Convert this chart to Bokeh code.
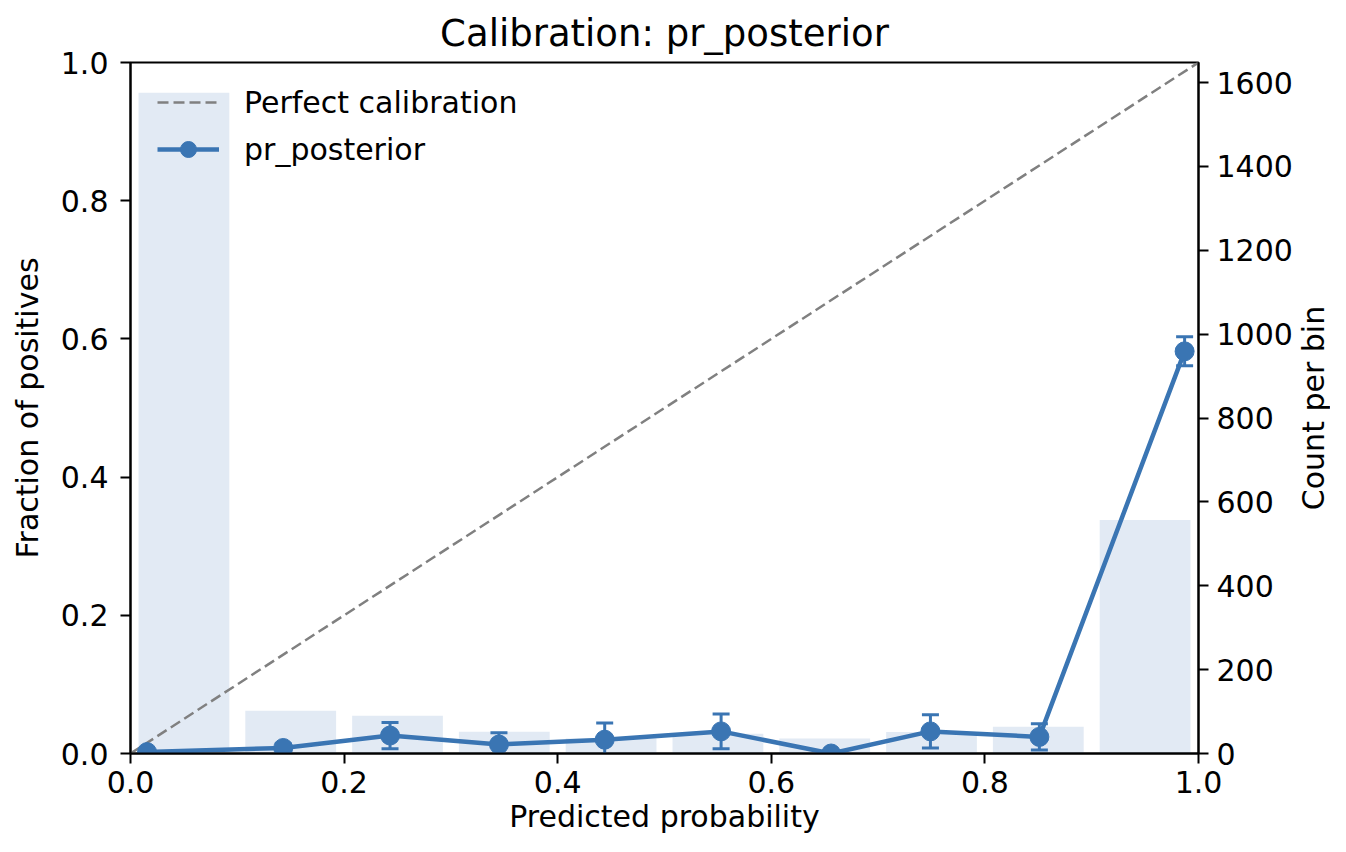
import math
from bokeh.plotting import figure
from bokeh.layouts import row
from bokeh.models import (Range1d, LinearAxis, FixedTicker, PrintfTickFormatter,
                          Legend, LegendItem, Label)
from bokeh.embed import file_html
from bokeh.resources import INLINE

# ---------------- data ----------------
title_text = "Calibration: pr_posterior"
series_name = "pr_posterior"
diag_label = "Perfect calibration"
x_label = "Predicted probability"
y_label = "Fraction of positives"
y2_label = "Count per bin"

bin_centers = [0.05, 0.15, 0.25, 0.35, 0.45, 0.55, 0.65, 0.75, 0.85, 0.95]
bin_counts = [1576, 102, 90, 52, 36, 47, 36, 51, 64, 557]

mean_predicted = [0.0155, 0.143, 0.243, 0.345, 0.444, 0.553, 0.656, 0.749, 0.851, 0.987]
fraction_positives = [0.002, 0.008, 0.026, 0.013, 0.020, 0.032, 0.0, 0.032, 0.024, 0.582]
fraction_err = [0.002, 0.006, 0.019, 0.017, 0.024, 0.025, 0.0, 0.024, 0.019, 0.021]

diag_xy = [0.0, 1.0]
x_ticks = [0.0, 0.2, 0.4, 0.6, 0.8, 1.0]
y_ticks = [0.0, 0.2, 0.4, 0.6, 0.8, 1.0]
count_ticks = [0, 200, 400, 600, 800, 1000, 1200, 1400, 1600]
count_max = 1648

# ---------------- style / layout ----------------
BLUE = "#3a75b3"
GRAY = "#808080"
FONT = "DejaVu Sans"
FS = "30px"
W_MAIN, W_SIDE, H = 1295, 35, 836
B_LEFT, B_RIGHT, B_TOP, B_BOTTOM = 130, 94, 62, 83
FRAME_H = H - B_TOP - B_BOTTOM

p = figure(width=W_MAIN, height=H,
           x_range=Range1d(0, 1), y_range=Range1d(0, 1),
           output_backend="svg", toolbar_location=None,
           min_border_left=B_LEFT, min_border_right=B_RIGHT,
           min_border_top=B_TOP, min_border_bottom=B_BOTTOM,
           title=title_text)
p.extra_y_ranges = {"count": Range1d(0, count_max)}
p.background_fill_color = "white"
p.border_fill_color = "white"
p.outline_line_color = "black"
p.outline_line_width = 2
p.outline_line_alpha = 1
p.xgrid.visible = False
p.ygrid.visible = False

p.title.text_font = FONT
p.title.text_font_size = "37px"
p.title.text_font_style = "normal"
p.title.align = "center"
p.title.text_color = "black"
p.title.standoff = 16

# bars (count per bin) on secondary axis
p.vbar(x=bin_centers, top=bin_counts, bottom=0, width=0.085,
       y_range_name="count", fill_color=BLUE, fill_alpha=0.15, line_color=None)

# perfect calibration diagonal
diag_r = p.line(diag_xy, diag_xy, line_color=GRAY, line_width=2.5, line_dash="11 5")

# error bars
lower = [f - e for f, e in zip(fraction_positives, fraction_err)]
upper = [f + e for f, e in zip(fraction_positives, fraction_err)]
p.segment(x0=mean_predicted, y0=lower, x1=mean_predicted, y1=upper,
          line_color=BLUE, line_width=3)
p.scatter(x=mean_predicted + mean_predicted, y=lower + upper, marker="dash",
          size=17, line_color=BLUE, line_width=3)

line_r = p.line(mean_predicted, fraction_positives, line_color=BLUE, line_width=4.5)
pts_r = p.scatter(mean_predicted, fraction_positives, size=19,
                  fill_color=BLUE, line_color=BLUE)

legend = Legend(items=[LegendItem(label=diag_label, renderers=[diag_r]),
                       LegendItem(label=series_name, renderers=[line_r, pts_r])],
                location=(27, FRAME_H - 87 - 20), margin=0, padding=0,
                glyph_width=62, glyph_height=40, label_standoff=25, spacing=7,
                label_text_font=FONT, label_text_font_size=FS, label_text_color="black",
                background_fill_alpha=0, border_line_alpha=0)
p.add_layout(legend)

# axes
p.xaxis.ticker = FixedTicker(ticks=x_ticks)
p.xaxis.formatter = PrintfTickFormatter(format="%.1f")
p.xaxis.axis_label = x_label
p.yaxis.ticker = FixedTicker(ticks=y_ticks)
p.yaxis.formatter = PrintfTickFormatter(format="%.1f")
p.yaxis.axis_label = y_label

ax_r = LinearAxis(y_range_name="count", ticker=FixedTicker(ticks=count_ticks))
p.add_layout(ax_r, "right")

for ax in [p.xaxis[0], p.yaxis[0], ax_r]:
    ax.major_label_text_font = FONT
    ax.major_label_text_font_size = FS
    ax.major_label_text_color = "black"
    ax.axis_label_text_font = FONT
    ax.axis_label_text_font_size = FS
    ax.axis_label_text_font_style = "normal"
    ax.axis_label_text_color = "black"
    ax.major_tick_out = 10
    ax.major_tick_in = 0
    ax.minor_tick_out = 0
    ax.minor_tick_in = 0
    ax.major_tick_line_width = 2
    ax.major_tick_line_color = "black"
    ax.axis_line_width = 2
    ax.axis_line_color = "black"
    ax.major_label_standoff = 12

p.xaxis[0].major_label_standoff = 7
p.xaxis[0].axis_label_standoff = 3
p.yaxis[0].axis_label_standoff = 13
ax_r.major_label_standoff = 8

# narrow side panel carrying the right-hand axis title (reads bottom-to-top)
side = figure(width=W_SIDE, height=H, x_range=Range1d(0, 1), y_range=Range1d(0, 1),
              output_backend="svg", toolbar_location=None, min_border=0)
side.xaxis.visible = False
side.yaxis.visible = False
side.xgrid.visible = False
side.ygrid.visible = False
side.outline_line_color = None
side.background_fill_color = "white"
side.border_fill_color = "white"
side.add_layout(Label(x=W_SIDE / 2, y=FRAME_H / 2,
                      x_units="screen", y_units="screen",
                      text=y2_label, angle=math.pi / 2, text_align="center",
                      text_baseline="middle", text_font=FONT, text_font_size=FS,
                      text_color="black"))

layout = row(p, side)
open("out.html", "w").write(file_html(layout, INLINE))
